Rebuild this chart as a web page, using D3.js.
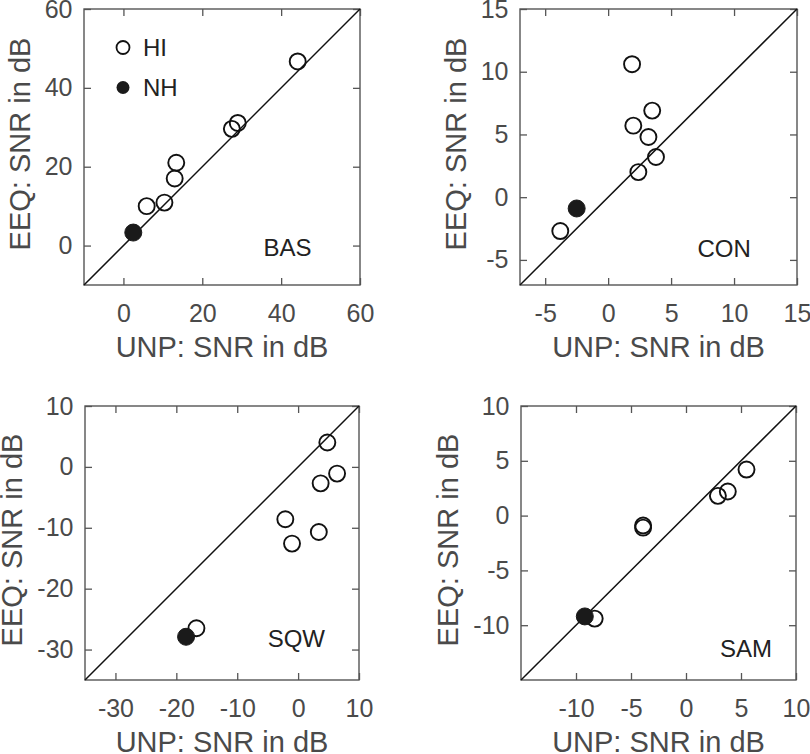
<!DOCTYPE html>
<html><head><meta charset="utf-8">
<script src="https://cdn.jsdelivr.net/npm/d3@7"></script>
<style>body{margin:0;background:#fff}svg{display:block}text{font-family:"Liberation Sans",Arial,sans-serif}</style>
</head><body>
<script>
// ---- data ----
const panelNames = ["BAS", "CON", "SQW", "SAM"];
const domains = [[-10, 60], [-7, 15], [-35, 10], [-15, 10]];
const tickValues = [[0, 20, 40, 60], [-5, 0, 5, 10, 15], [-30, -20, -10, 0, 10], [-10, -5, 0, 5, 10]];
// HI listeners: [UNP, EEQ]
const hiBAS = [[44.2, 46.7], [29.0, 31.1], [27.5, 29.6], [13.4, 21.0], [13.0, 17.0], [5.9, 10.0], [10.4, 10.9]];
const hiCON = [[1.9, 10.6], [3.5, 6.9], [2.0, 5.7], [3.2, 4.8], [3.8, 3.2], [2.4, 2.0], [-3.8, -2.7]];
const hiSQW = [[4.8, 4.0], [6.4, -1.1], [3.7, -2.7], [-2.1, -8.6], [-1.0, -12.6], [3.4, -10.7], [-16.7, -26.5]];
const hiSAM = [[5.5, 4.2], [3.8, 2.2], [2.9, 1.8], [-3.9, -0.9], [-3.9, -1.1], [-8.3, -9.4]];
// NH mean
const nhBAS = [[2.5, 3.3]];
const nhCON = [[-2.5, -0.9]];
const nhSQW = [[-18.4, -27.9]];
const nhSAM = [[-9.2, -9.2]];
const labelPos = [[35.5, -2.6], [7.1, -4.75], [-5, -29.5], [3.1, -12.9]];
const xTitle = "UNP: SNR in dB";
const yTitle = "EEQ: SNR in dB";

const hiSets = [hiBAS, hiCON, hiSQW, hiSAM];
const nhSets = [nhBAS, nhCON, nhSQW, nhSAM];
const boxes = [
  {l: 84, t: 9, w: 276, h: 276},
  {l: 520, t: 9, w: 277, h: 276},
  {l: 85, t: 406, w: 274, h: 274},
  {l: 521, t: 406, w: 275, h: 274}
];
const yTitleOffsets = [54, 54, 63, 63];

const svg = d3.select("body").append("svg").attr("width", 810).attr("height", 754);
const axisCol = "#555", textCol = "#4a4a4a";

panelNames.forEach((name, i) => {
  const b = boxes[i];
  const x = d3.scaleLinear().domain(domains[i]).range([0, b.w]);
  const y = d3.scaleLinear().domain(domains[i]).range([b.h, 0]);
  const g = svg.append("g").attr("transform", `translate(${b.l},${b.t})`);

  const tl = 7;
  const fmt = d => String(d);
  const axB = d3.axisBottom(x).tickValues(tickValues[i]).tickSize(-tl).tickFormat(fmt);
  const axT = d3.axisTop(x).tickValues(tickValues[i]).tickSize(-tl).tickFormat("");
  const axL = d3.axisLeft(y).tickValues(tickValues[i]).tickSize(-tl).tickFormat(fmt).tickPadding(11);
  const axR = d3.axisRight(y).tickValues(tickValues[i]).tickSize(-tl).tickFormat("");
  const gb = g.append("g").attr("transform", `translate(0,${b.h})`).call(axB);
  const gt = g.append("g").call(axT);
  const gl = g.append("g").call(axL);
  const gr = g.append("g").attr("transform", `translate(${b.w},0)`).call(axR);
  [gb, gt, gl, gr].forEach(a => {
    a.select(".domain").remove();
    a.selectAll(".tick line").attr("stroke", axisCol).attr("stroke-width", 1.3);
    a.selectAll(".tick text").attr("fill", textCol).style("font-size", "25px");
  });
  gb.selectAll(".tick text").attr("dy", "0.71em").attr("y", 19);
  gl.selectAll(".tick text").attr("x", -11.5);

  g.append("rect").attr("width", b.w).attr("height", b.h)
    .attr("fill", "none").attr("stroke", axisCol).attr("stroke-width", 1.4);

  const d = domains[i];
  g.append("line")
    .attr("x1", x(d[0])).attr("y1", y(d[0]))
    .attr("x2", x(d[1])).attr("y2", y(d[1]))
    .attr("stroke", "#111").attr("stroke-width", 1.5);

  g.selectAll("circle.hi").data(hiSets[i]).enter().append("circle")
    .attr("class", "hi")
    .attr("cx", p => x(p[0])).attr("cy", p => y(p[1])).attr("r", 8)
    .attr("fill", "none").attr("stroke", "#111").attr("stroke-width", 1.9);
  g.selectAll("circle.nh").data(nhSets[i]).enter().append("circle")
    .attr("class", "nh")
    .attr("cx", p => x(p[0])).attr("cy", p => y(p[1])).attr("r", 8.5)
    .attr("fill", "#1a1a1a").attr("stroke", "#1a1a1a").attr("stroke-width", 1);

  g.append("text").attr("x", x(labelPos[i][0])).attr("y", y(labelPos[i][1]))
    .attr("fill", "#222").style("font-size", "24px").text(name);

  g.append("text").attr("x", b.w / 2).attr("y", b.h + 72)
    .attr("text-anchor", "middle").attr("fill", textCol).style("font-size", "29px").text(xTitle);
  g.append("text").attr("transform", `translate(${-yTitleOffsets[i]},${b.h / 2 - 3}) rotate(-90)`)
    .attr("text-anchor", "middle").attr("fill", textCol).style("font-size", "29px").text(yTitle);

  if (i === 0) {
    const lg = g.append("g");
    lg.append("circle").attr("cx", 39).attr("cy", 38.5).attr("r", 6.5)
      .attr("fill", "none").attr("stroke", "#111").attr("stroke-width", 1.8);
    lg.append("text").attr("x", 59).attr("y", 47).attr("fill", "#222").style("font-size", "24px").text("HI");
    lg.append("circle").attr("cx", 39).attr("cy", 78.5).attr("r", 6.5)
      .attr("fill", "#1a1a1a");
    lg.append("text").attr("x", 59).attr("y", 87).attr("fill", "#222").style("font-size", "24px").text("NH");
  }
});
</script>
</body></html>
